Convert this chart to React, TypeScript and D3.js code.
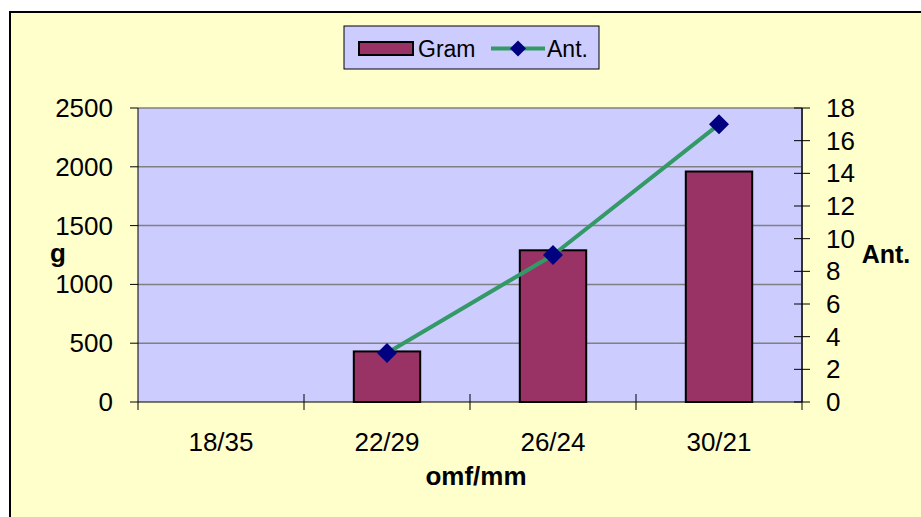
import React from 'react';
import * as d3 from 'd3';

const categories = ['18/35', '22/29', '26/24', '30/21'];
const gram: (number | null)[] = [null, 430, 1290, 1960];
const ant: (number | null)[] = [null, 3, 9, 17];
const leftTicks = [0, 500, 1000, 1500, 2000, 2500];
const rightTicks = [0, 2, 4, 6, 8, 10, 12, 14, 16, 18];

const W = 921;
const H = 517;
const plot = { left: 138, right: 802, top: 108, bottom: 402 };
const FONT = '"Liberation Sans", Arial, sans-serif';

const App = () => {
  const x = d3.scaleBand<string>().domain(categories).range([plot.left, plot.right]).padding(0);
  const yL = d3.scaleLinear().domain([0, 2500]).range([plot.bottom, plot.top]);
  const yR = d3.scaleLinear().domain([0, 18]).range([plot.bottom, plot.top]);
  const barW = x.bandwidth() * 0.4;

  const antPts = categories
    .map((c, i) => ({ c, v: ant[i] }))
    .filter((d) => d.v != null) as { c: string; v: number }[];
  const line = d3
    .line<{ c: string; v: number }>()
    .x((d) => x(d.c)! + x.bandwidth() / 2)
    .y((d) => yR(d.v));

  const diamond = (cx: number, cy: number, r: number) =>
    `M${cx},${cy - r}L${cx + r},${cy}L${cx},${cy + r}L${cx - r},${cy}Z`;

  return (
    <svg width={W} height={H} style={{ position: 'absolute', left: 0, top: 0, display: 'block' }} fontFamily={FONT}>
      <rect x={0} y={0} width={W} height={H} fill="#fff" />
      <rect x={10} y={12} width={W + 20} height={H + 20} fill="#FFFFCC" stroke="#000" strokeWidth={2} />

      {/* plot area */}
      <rect x={plot.left} y={plot.top} width={plot.right - plot.left} height={plot.bottom - plot.top} fill="#CCCCFF" />
      {leftTicks.slice(1).map((t) => (
        <line key={t} x1={plot.left} x2={plot.right} y1={yL(t)} y2={yL(t)} stroke="#808080" strokeWidth={1.5} />
      ))}

      {/* bars */}
      {categories.map((c, i) =>
        gram[i] == null ? null : (
          <rect
            key={c}
            x={x(c)! + (x.bandwidth() - barW) / 2}
            y={yL(gram[i] as number)}
            width={barW}
            height={plot.bottom - yL(gram[i] as number)}
            fill="#993366"
            stroke="#000"
            strokeWidth={2}
          />
        )
      )}

      {/* axes */}
      <line x1={plot.left} x2={plot.left} y1={plot.top} y2={plot.bottom} stroke="#000" strokeWidth={1} />
      <line x1={plot.right} x2={plot.right} y1={plot.top} y2={plot.bottom} stroke="#333" strokeWidth={2} />
      <line x1={plot.left} x2={plot.right} y1={plot.bottom} y2={plot.bottom} stroke="#000" strokeWidth={1} />

      {leftTicks.map((t) => (
        <g key={t}>
          <line x1={plot.left - 8} x2={plot.left} y1={yL(t)} y2={yL(t)} stroke="#000" />
          <text x={113} y={yL(t) + 9} textAnchor="end" fontSize={26}>
            {t}
          </text>
        </g>
      ))}
      {rightTicks.map((t) => (
        <g key={t}>
          <line x1={plot.right - 8} x2={plot.right + 8} y1={yR(t)} y2={yR(t)} stroke="#000" />
          <text x={826} y={yR(t) + 9} textAnchor="start" fontSize={26}>
            {t}
          </text>
        </g>
      ))}
      {categories.map((c, i) => (
        <g key={c}>
          <line x1={x(c)!} x2={x(c)!} y1={plot.bottom - (i === 0 ? 0 : 8)} y2={plot.bottom + 8} stroke="#000" />
          <text x={x(c)! + x.bandwidth() / 2} y={451} textAnchor="middle" fontSize={26}>
            {c}
          </text>
        </g>
      ))}
      <line x1={plot.right} x2={plot.right} y1={plot.bottom} y2={plot.bottom + 8} stroke="#000" />

      {/* line series */}
      <path d={line(antPts) ?? ''} fill="none" stroke="#339966" strokeWidth={4} />
      {antPts.map((d) => (
        <path key={d.c} d={diamond(x(d.c)! + x.bandwidth() / 2, yR(d.v), 10)} fill="#000080" />
      ))}

      {/* axis titles */}
      <text x={58} y={262} textAnchor="middle" fontSize={26} fontWeight="bold">g</text>
      <text x={886} y={263} textAnchor="middle" fontSize={25} fontWeight="bold">Ant.</text>
      <text x={476} y={485} textAnchor="middle" fontSize={26} fontWeight="bold">omf/mm</text>

      {/* legend */}
      <rect x={344} y={26} width={255} height={43} fill="#CCCCFF" stroke="#000" strokeWidth={1} />
      <rect x={359} y={42} width={54} height={13} fill="#993366" stroke="#000" strokeWidth={2} />
      <text x={418} y={56.5} fontSize={23}>Gram</text>
      <line x1={491} x2={545} y1={48.5} y2={48.5} stroke="#339966" strokeWidth={4} />
      <path d={diamond(518, 48.5, 8)} fill="#000080" />
      <text x={547} y={56.5} fontSize={23}>Ant.</text>
    </svg>
  );
};

export default App;
